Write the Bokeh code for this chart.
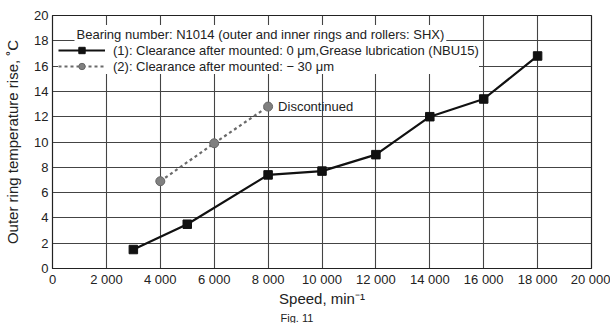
from bokeh.plotting import figure
from bokeh.models import Range1d, FixedTicker, Legend, LegendItem, Label, Title
from bokeh.embed import file_html
from bokeh.resources import INLINE
from bokeh.core.properties import value

# ---- data ----
speed_1 = [3000, 5000, 8000, 10000, 12000, 14000, 16000, 18000]
temp_1 = [1.5, 3.5, 7.4, 7.7, 9.0, 12.0, 13.4, 16.8]
speed_2 = [4000, 6000, 8000]
temp_2 = [6.9, 9.9, 12.8]
x_ticks = [0, 2000, 4000, 6000, 8000, 10000, 12000, 14000, 16000, 18000, 20000]
x_tick_labels = ["0", "2 000", "4 000", "6 000", "8 000", "10 000", "12 000",
                 "14 000", "16 000", "18 000", "20 000"]
y_ticks = [0, 2, 4, 6, 8, 10, 12, 14, 16, 18, 20]
label_1 = "(1): Clearance after mounted: 0 \u03bcm,Grease lubrication (NBU15)"
label_2 = "(2): Clearance after mounted: \u2212 30 \u03bcm"
legend_title = "Bearing number: N1014 (outer and inner rings and rollers: SHX)"
note_x = [8000]
note_y = [12.8]
note_text = ["Discontinued"]
caption = "Fig. 11"

FONT = "Liberation Sans"

p = figure(width=610, height=323, output_backend="svg", toolbar_location=None,
           x_range=Range1d(0, 20000), y_range=Range1d(0, 20),
           min_border_left=52, min_border_right=19, min_border_top=15, min_border_bottom=54)
p.background_fill_color = "white"
p.border_fill_color = "white"
p.outline_line_color = "#222222"
p.outline_line_width = 1.2

for ax in (p.xaxis[0], p.yaxis[0]):
    ax.axis_line_color = "#222222"
    ax.major_tick_out = 0
    ax.major_tick_in = 0
    ax.minor_tick_out = 0
    ax.minor_tick_in = 0
    ax.major_label_text_font = FONT
    ax.major_label_text_font_size = "13px"
    ax.major_label_text_color = "#222222"
    ax.axis_label_text_font = FONT
    ax.axis_label_text_font_size = "15px"
    ax.axis_label_text_font_style = "normal"
    ax.axis_label_text_color = "#222222"

p.xaxis.ticker = FixedTicker(ticks=x_ticks)
p.xaxis.major_label_overrides = {t: l for t, l in zip(x_ticks, x_tick_labels)}
p.yaxis.ticker = FixedTicker(ticks=y_ticks)
p.xaxis.major_label_standoff = 3
p.yaxis.major_label_standoff = 4
p.xaxis.axis_label = "Speed, min\u207b\u00b9"
p.yaxis.axis_label = "Outer ring temperature rise, \u02daC"
p.xaxis.axis_label_standoff = 0
p.yaxis.axis_label_standoff = 10

p.xgrid.ticker = FixedTicker(ticks=x_ticks)
p.ygrid.ticker = FixedTicker(ticks=y_ticks)
for g in (p.xgrid, p.ygrid):
    g.grid_line_color = "#444444"
    g.grid_line_width = 1.1

l2 = p.line(speed_2, temp_2, line_color="#6a6a6a", line_width=2.2, line_dash="3 3")
s2 = p.scatter(speed_2, temp_2, marker="circle", size=9, fill_color="#808080",
               line_color="#666666")
l1 = p.line(speed_1, temp_1, line_color="#111111", line_width=2.2)
s1 = p.scatter(speed_1, temp_1, marker="square", size=8.5, fill_color="#111111",
               line_color="#111111")

p.text(x=note_x, y=note_y, text=note_text, x_offset=10, text_baseline="middle",
       text_font=value(FONT), text_font_size="13px", text_color="#222222")

legend = Legend(items=[LegendItem(label=label_1, renderers=[l1, s1]),
                       LegendItem(label=label_2, renderers=[l2, s2])],
                location=(6, 194))
legend.background_fill_color = "white"
legend.background_fill_alpha = 1.0
legend.border_line_color = None
legend.padding = 0
legend.margin = 0
legend.spacing = 0
legend.glyph_width = 47
legend.glyph_height = 16
legend.label_height = 16
legend.label_standoff = 8
legend.label_text_font = FONT
legend.label_text_font_size = "13px"
legend.label_text_color = "#222222"
p.add_layout(legend, "center")

title = Label(x=22, y=234, x_units="screen", y_units="screen", text=legend_title,
              text_baseline="middle", text_font=FONT, text_font_size="13px",
              text_color="#222222", background_fill_color="white", padding=2,
              level="overlay")
p.add_layout(title)

fig_caption = Title(text=caption, align="left", offset=228, text_font=FONT,
                    text_font_size="11px", text_font_style="normal",
                    text_color="#222222", standoff=0, text_line_height=1.0)
p.add_layout(fig_caption, "below")

open("out.html", "w").write(file_html(p, INLINE))
